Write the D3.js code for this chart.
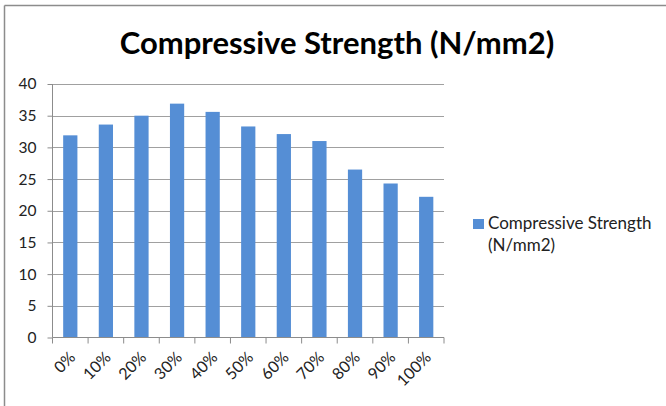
<!DOCTYPE html>
<html><head><meta charset="utf-8">
<script src="https://cdn.jsdelivr.net/npm/d3@7"></script>
<style>body{margin:0;background:#fff}svg{display:block}</style>
</head><body>
<script>
const categories = ["0%","10%","20%","30%","40%","50%","60%","70%","80%","90%","100%"];
const strength = [31.9, 33.6, 35.0, 36.9, 35.6, 33.3, 32.1, 31.0, 26.5, 24.3, 22.2];
const yTicks = [0,5,10,15,20,25,30,35,40];
const seriesName = "Compressive Strength (N/mm2)";
const titleText = "Compressive Strength (N/mm2)";

const W = 666, H = 406;
const svg = d3.select("body").append("svg").attr("width", W).attr("height", H);
const font = "Lato, 'Open Sans', sans-serif";

// outer frame (top & left only visible)
svg.append("line").attr("x1",4.5).attr("x2",W).attr("y1",5.5).attr("y2",5.5).attr("stroke","#8c8c8c").attr("stroke-width",1.5);
svg.append("line").attr("x1",4.5).attr("x2",4.5).attr("y1",5.5).attr("y2",H).attr("stroke","#8c8c8c").attr("stroke-width",1.5);

const plot = {l:52.5, r:444, t:84, b:337.5};
const x = d3.scaleBand().domain(categories).range([plot.l, plot.r]).paddingInner(0.6).paddingOuter(0.3);
const xb = d3.scaleBand().domain(categories).range([plot.l, plot.r]);
const y = d3.scaleLinear().domain([0,40]).range([plot.b, plot.t]);

// gridlines
svg.append("g").selectAll("line").data(yTicks.filter(d=>d>0)).join("line")
  .attr("x1", plot.l).attr("x2", plot.r)
  .attr("y1", d=>Math.round(y(d))+0.5).attr("y2", d=>Math.round(y(d))+0.5)
  .attr("stroke","#a0a0a0").attr("stroke-width",1);

// bars
svg.append("g").selectAll("rect").data(categories).join("rect")
  .attr("x", d=>x(d)).attr("width", x.bandwidth())
  .attr("y", (d,i)=>y(strength[i])).attr("height", (d,i)=>plot.b - y(strength[i]))
  .attr("fill","#558ed5");

// y axis
const yAxis = d3.axisLeft(y).tickValues(yTicks).tickSize(5).tickPadding(11);
const gy = svg.append("g").attr("transform",`translate(${plot.l},0)`).call(yAxis);
gy.select(".domain").attr("stroke","#8c8c8c").attr("d",`M0,${plot.t}V${plot.b}`);
gy.selectAll(".tick line").attr("stroke","#8c8c8c");
gy.selectAll(".tick text").attr("font-family",font).attr("font-size",15.5).attr("fill","#222");

// x axis
const gx = svg.append("g").attr("transform",`translate(0,${plot.b})`);
gx.append("line").attr("x1",plot.l).attr("x2",plot.r).attr("y1",0).attr("y2",0).attr("stroke","#8c8c8c");
const bounds = categories.map(c=>xb(c)).concat([plot.r]);
gx.selectAll("line.tk").data(bounds).join("line").attr("class","tk")
  .attr("x1",d=>d).attr("x2",d=>d).attr("y1",0).attr("y2",6).attr("stroke","#8c8c8c");
gx.selectAll("text").data(categories).join("text")
  .attr("transform", d=>`translate(${xb(d)+xb.bandwidth()/2+2},${17}) rotate(-45)`)
  .attr("text-anchor","end").attr("dy","0.35em")
  .attr("font-family",font).attr("font-size",16).attr("fill","#222")
  .text(d=>d);

// title
svg.append("text").attr("x",337).attr("y",54).attr("text-anchor","middle")
  .attr("font-family",font).attr("font-weight","bold").attr("font-size",31).attr("fill","#000")
  .text(titleText);

// legend
const lg = svg.append("g");
lg.append("rect").attr("x",473).attr("y",219).attr("width",11).attr("height",10).attr("fill","#558ed5");
const words = seriesName.split(" ");
lg.append("text").attr("x",488).attr("y",229).attr("font-family",font).attr("font-size",17).attr("fill","#222")
  .text(words.slice(0,2).join(" "));
lg.append("text").attr("x",488).attr("y",251).attr("font-family",font).attr("font-size",17).attr("fill","#222")
  .text(words.slice(2).join(" "));
</script>
</body></html>
